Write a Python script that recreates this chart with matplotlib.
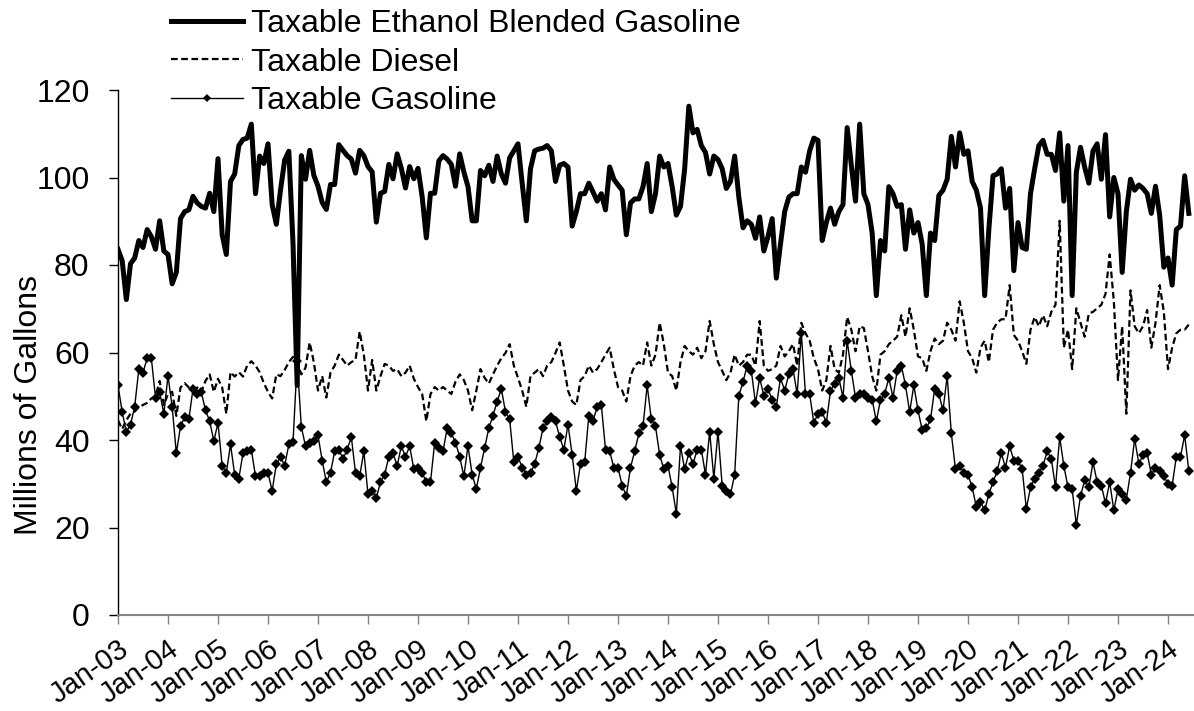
import matplotlib
matplotlib.use('Agg')
import matplotlib.pyplot as plt
import numpy as np

plt.rcParams['font.family'] = ['Liberation Sans', 'DejaVu Sans']

# monthly values, Jan-03 .. Jun-24 (millions of gallons)
ethanol = [
    83.6, 81.0, 72.1, 80.3, 81.6, 85.6, 84.0, 88.1, 86.5, 83.6, 90.1, 83.2,
    82.4, 75.7, 78.3, 90.6, 92.2, 92.6, 95.7, 94.2, 93.4, 93.0, 96.4, 92.2,
    104.3, 86.9, 82.4, 99.1, 100.8, 107.3, 108.7, 109.0, 112.2, 96.3, 104.9, 103.2,
    107.7, 93.8, 89.3, 97.1, 104.0, 106.0, 85.0, 52.5, 105.0, 99.6, 106.2, 100.5,
    98.0, 94.3, 92.7, 98.4, 98.4, 107.5, 106.2, 105.0, 104.2, 101.0, 106.2, 105.0,
    102.5, 101.3, 89.8, 96.4, 96.8, 103.0, 99.7, 105.4, 102.1, 97.6, 102.5, 99.7,
    102.1, 95.6, 86.2, 96.4, 96.4, 103.8, 105.0, 104.2, 103.0, 98.0, 105.4, 101.3,
    97.9, 90.1, 90.1, 101.6, 100.4, 102.8, 99.1, 104.9, 100.8, 98.7, 104.5, 106.1,
    107.7, 98.7, 90.1, 102.0, 106.1, 106.5, 106.7, 107.3, 106.1, 99.1, 102.8, 103.2,
    102.4, 88.9, 92.2, 96.3, 96.3, 98.7, 96.7, 94.6, 96.3, 92.6, 102.4, 99.6,
    98.3, 97.1, 86.9, 94.2, 95.1, 95.1, 97.9, 103.2, 92.2, 96.3, 104.9, 102.4,
    103.2, 97.9, 91.4, 93.4, 102.0, 116.3, 110.2, 111.0, 107.3, 105.7, 100.8, 104.9,
    104.1, 102.0, 97.5, 99.1, 104.9, 95.5, 88.5, 90.1, 89.3, 86.1, 91.0, 83.2,
    86.5, 90.6, 77.0, 84.8, 92.2, 95.5, 96.3, 96.3, 102.4, 101.2, 106.1, 109.0,
    108.5, 85.6, 89.7, 93.0, 89.3, 92.2, 93.8, 111.4, 102.8, 94.6, 112.2, 96.3,
    93.8, 87.3, 73.0, 85.6, 83.2, 97.9, 96.3, 93.4, 93.8, 83.6, 92.6, 87.3,
    89.7, 84.8, 73.0, 87.3, 85.6, 95.9, 97.1, 99.6, 109.4, 102.4, 110.2, 105.3,
    106.1, 99.1, 97.1, 93.0, 73.0, 88.1, 100.4, 100.8, 102.0, 93.0, 97.5, 78.7,
    89.7, 84.0, 83.6, 96.3, 102.0, 107.3, 108.5, 105.3, 105.3, 101.6, 110.2, 94.6,
    107.3, 73.0, 101.2, 106.9, 102.4, 98.7, 106.1, 107.7, 99.6, 109.8, 91.0, 100.0,
    96.3, 78.3, 92.2, 99.6, 97.1, 98.3, 97.5, 96.3, 91.8, 98.0, 91.4, 79.5,
    81.6, 75.4, 88.1, 88.9, 100.4, 91.8,
]
diesel = [
    44.5, 42.5, 44.5, 46.0, 46.5, 47.5, 48.0, 48.5, 49.5, 50.0, 53.5, 48.0,
    50.5, 51.0, 45.5, 52.0, 53.0, 52.0, 51.5, 52.0, 51.0, 53.5, 55.0, 51.0,
    54.0, 52.0, 46.0, 55.5, 54.5, 55.5, 54.5, 57.0, 58.0, 57.0, 55.5, 53.0,
    51.0, 49.5, 55.0, 54.6, 56.0, 57.8, 59.0, 57.5, 55.0, 56.5, 62.3, 57.8,
    51.3, 54.6, 49.7, 55.4, 57.0, 59.5, 58.3, 57.0, 57.8, 58.3, 64.8, 59.5,
    51.3, 58.3, 51.3, 54.6, 57.4, 57.0, 55.8, 56.2, 54.6, 55.4, 57.0, 54.0,
    52.1, 50.5, 44.3, 50.5, 52.1, 51.3, 52.1, 51.3, 50.5, 53.3, 55.0, 53.7,
    51.3, 46.8, 51.3, 56.2, 54.2, 52.9, 55.0, 57.0, 58.7, 59.9, 61.9, 57.0,
    54.2, 51.3, 47.6, 54.6, 55.4, 56.2, 54.6, 57.0, 57.8, 59.9, 62.3, 57.0,
    51.3, 48.8, 48.0, 53.7, 54.6, 57.0, 55.4, 56.2, 57.8, 59.5, 61.1, 56.2,
    52.1, 51.3, 48.8, 54.6, 57.0, 57.8, 57.0, 62.3, 57.0, 59.5, 66.8, 61.9,
    55.4, 54.6, 51.3, 57.8, 61.5, 60.3, 59.5, 61.1, 58.7, 60.3, 67.2, 61.9,
    57.8, 55.8, 53.7, 55.4, 59.5, 57.0, 57.8, 59.5, 59.5, 57.0, 67.2, 57.0,
    55.8, 56.2, 57.0, 61.5, 59.1, 60.3, 61.9, 57.0, 66.8, 64.4, 62.7, 58.7,
    56.2, 51.3, 53.7, 61.5, 56.2, 55.4, 59.5, 68.1, 65.2, 60.3, 66.0, 65.6,
    60.3, 54.6, 51.3, 59.5, 60.3, 61.9, 62.7, 63.6, 68.5, 63.6, 70.1, 65.2,
    59.1, 58.7, 55.8, 60.3, 63.2, 61.9, 62.7, 66.8, 65.2, 62.7, 71.7, 66.8,
    60.3, 58.7, 55.4, 61.1, 62.7, 57.8, 65.2, 66.8, 67.6, 67.6, 75.4, 64.0,
    62.7, 60.3, 57.4, 65.2, 68.1, 66.0, 68.5, 66.0, 69.3, 70.9, 90.1, 61.1,
    65.2, 56.2, 70.1, 66.8, 63.6, 68.9, 69.3, 70.1, 70.9, 73.4, 82.4, 71.7,
    53.7, 66.0, 46.0, 74.2, 66.0, 64.4, 66.0, 69.7, 61.1, 66.8, 75.4, 69.3,
    56.2, 61.1, 64.4, 65.2, 65.2, 66.4,
]
gasoline = [
    52.5, 46.4, 41.9, 43.5, 47.6, 56.2, 55.4, 58.7, 58.7, 49.7, 50.9, 46.0,
    54.7, 47.6, 37.0, 43.1, 45.2, 44.7, 51.7, 50.5, 50.9, 46.8, 44.3, 39.8,
    43.9, 34.1, 32.5, 39.0, 32.1, 31.2, 37.0, 37.4, 37.8, 31.7, 31.7, 32.5,
    32.5, 28.4, 34.5, 36.2, 34.1, 39.0, 39.5, 58.0, 43.0, 38.6, 39.4, 39.8,
    41.1, 35.3, 30.4, 32.5, 37.4, 37.8, 35.7, 37.8, 40.7, 32.5, 31.7, 37.4,
    27.6, 28.4, 26.7, 30.4, 32.1, 36.2, 37.0, 34.1, 38.6, 36.2, 38.6, 33.3,
    33.7, 32.5, 30.4, 30.4, 39.4, 38.2, 37.4, 42.7, 41.5, 39.4, 36.2, 31.7,
    38.6, 32.1, 28.8, 33.7, 38.2, 42.7, 45.6, 48.8, 51.7, 46.4, 44.7, 34.9,
    36.2, 33.7, 32.1, 32.5, 34.5, 38.2, 42.7, 44.3, 45.2, 44.3, 40.7, 37.8,
    43.5, 36.6, 28.4, 34.5, 34.9, 45.6, 44.3, 47.6, 48.0, 37.8, 37.4, 33.7,
    33.7, 29.6, 27.2, 33.7, 37.4, 41.5, 43.1, 52.5, 44.7, 43.1, 36.6, 33.3,
    34.1, 29.2, 23.1, 38.6, 33.3, 37.0, 34.5, 37.8, 37.8, 32.1, 41.9, 31.2,
    41.9, 29.6, 28.4, 27.6, 32.1, 50.1, 53.3, 57.0, 55.8, 48.4, 54.2, 50.1,
    51.7, 49.2, 47.6, 54.2, 51.3, 55.0, 56.2, 50.5, 64.4, 50.5, 50.5, 43.9,
    46.0, 46.4, 43.9, 51.3, 52.9, 54.2, 49.7, 62.7, 55.8, 49.7, 50.5, 50.5,
    49.7, 49.2, 44.3, 49.2, 50.5, 54.2, 49.7, 55.8, 57.0, 52.5, 46.4, 52.5,
    46.8, 42.3, 42.7, 44.7, 51.7, 50.5, 46.8, 54.6, 41.5, 33.3, 34.1, 32.5,
    32.1, 29.2, 24.7, 25.9, 23.9, 27.6, 30.4, 32.9, 37.0, 33.7, 38.6, 35.3,
    35.3, 33.3, 24.3, 29.2, 31.2, 32.5, 34.1, 37.4, 35.7, 29.2, 40.7, 34.1,
    29.2, 28.8, 20.6, 27.2, 30.8, 29.2, 34.9, 30.4, 29.6, 25.5, 30.4, 23.9,
    28.8, 27.6, 26.4, 32.5, 40.3, 34.5, 36.6, 37.0, 32.1, 33.7, 32.9, 31.7,
    30.0, 29.6, 36.2, 36.2, 41.1, 32.9,
]
tick_labels = ['Jan-03', 'Jan-04', 'Jan-05', 'Jan-06', 'Jan-07', 'Jan-08',
               'Jan-09', 'Jan-10', 'Jan-11', 'Jan-12', 'Jan-13', 'Jan-14',
               'Jan-15', 'Jan-16', 'Jan-17', 'Jan-18', 'Jan-19', 'Jan-20',
               'Jan-21', 'Jan-22', 'Jan-23', 'Jan-24']

months = np.arange(len(ethanol))
ticks = np.arange(len(tick_labels)) * 12

W, H = 1194, 711
fig = plt.figure(figsize=(W / 100, H / 100), dpi=100)
ax = fig.add_axes([118 / W, 1 - 615 / H, 1 - 118 / W, (615 - 90) / H])

ax.plot(months, ethanol, color='black', lw=3.6, solid_joinstyle='round',
        label='Taxable Ethanol Blended Gasoline')
ax.plot(months, diesel, color='black', lw=1.6, ls=(0, (3, 1.6)),
        label='Taxable Diesel')
ax.plot(months, gasoline, color='black', lw=1, marker='D', ms=5.3, mew=0,
        label='Taxable Gasoline')

ax.set_xlim(0, 258.24)
ax.set_ylim(0, 120)
ax.set_yticks(range(0, 121, 20))
ax.set_xticks(ticks)
ax.set_xticklabels(tick_labels, rotation=35, ha='right', va='top',
                   rotation_mode='anchor')

for s in ('top', 'right'):
    ax.spines[s].set_visible(False)
ax.spines['left'].set_color('black')
ax.spines['left'].set_linewidth(1)
ax.spines['bottom'].set_color('#868686')
ax.spines['bottom'].set_linewidth(1.5)

ax.tick_params(axis='y', direction='out', length=6.5, width=1, color='black',
               pad=14, labelsize=23)
ax.tick_params(axis='x', direction='out', length=6.5, width=1, color='#808080',
               pad=8, labelsize=21)

ax.set_ylabel('Millions of Gallons', fontsize=23)
ax.yaxis.set_label_coords(-74 / (W - 118), 0.40)

handles, labels = ax.get_legend_handles_labels()
fig.legend(handles, labels, loc='upper left', bbox_to_anchor=(171 / W, 1 - 9 / H),
           frameon=False, fontsize=23, handlelength=2.25, handletextpad=0.25,
           labelspacing=0.27, borderpad=0, borderaxespad=0, markerscale=0.75)

fig.savefig('out.png', dpi=100)
